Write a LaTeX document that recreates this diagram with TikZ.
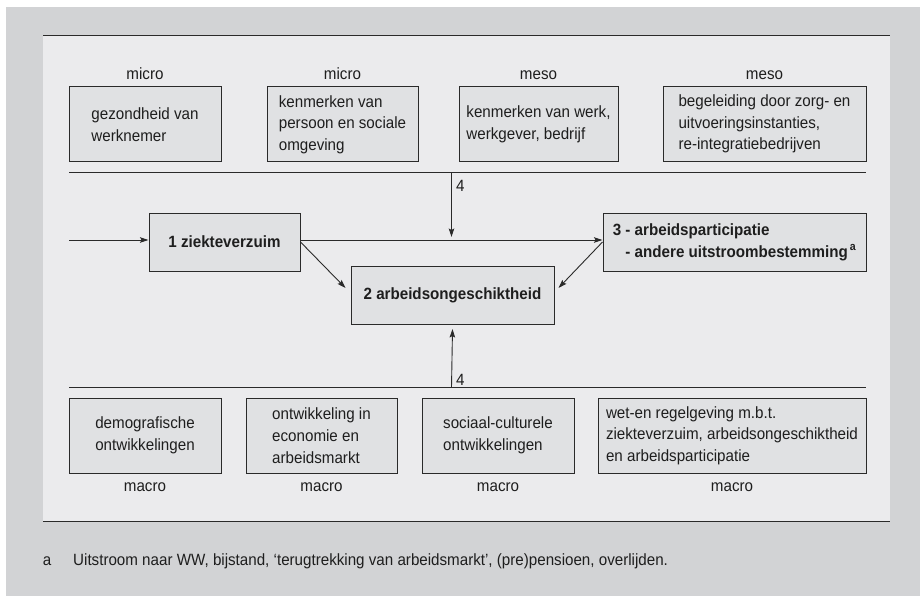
\documentclass[tikz,border=0pt]{standalone}
\usepackage{fontspec}
\setmainfont{Liberation Sans}[FakeStretch=0.93]
\usetikzlibrary{arrows.meta}
\definecolor{outergray}{HTML}{D2D3D5}
\definecolor{panel}{HTML}{EBEBED}
\definecolor{boxfill}{HTML}{E0E1E3}
\definecolor{linec}{HTML}{2A2A2A}
\definecolor{textc}{HTML}{1E1E1E}
\begin{document}
\begin{tikzpicture}[x=1pt,y=-1pt,
  txt/.style={font=\fontsize{16.3}{21.7}\selectfont, text=textc, inner sep=0pt},
  box/.style={txt, draw=linec, fill=boxfill, line width=1pt, align=left, minimum height=75pt},
  mbox/.style={box, font=\fontsize{16.3}{21.7}\selectfont\bfseries, minimum height=58pt},
  lvl/.style={txt, anchor=base},
  rule/.style={draw=linec, line width=1pt},
  arr/.style={draw=linec, line width=0.9pt, -{Stealth[length=8.5pt,width=5.5pt,inset=1.5pt]}}
]
\useasboundingbox (0,0) rectangle (920,596);
\fill[white] (0,0) rectangle (920,596);
\fill[outergray] (6,7) rectangle (920,596);
\fill[panel] (43,36) rectangle (890,521);
\draw[rule] (43,36) -- (890,36);
\draw[rule] (43,521) -- (890,521);

% top boxes
\node[box, minimum width=152pt] (t1) at (145,124.5) {gezondheid van\\werknemer};
\node[box, minimum width=151pt] (t2) at (342.5,124.5) {kenmerken van\\persoon en sociale\\omgeving};
\node[box, minimum width=159pt] (t3) at (538.5,124.5) {kenmerken van werk,\\werkgever, bedrijf};
\node[box, minimum width=203pt] (t4) at (764.5,124) {begeleiding door zorg- en\\uitvoeringsinstanties,\\re-integratiebedrijven};
\node[lvl] (l1) at (145,80) {micro};
\node[lvl] (l2) at (342.5,80) {micro};
\node[lvl] (l3) at (538.5,80) {meso};
\node[lvl] (l4) at (764.5,80) {meso};

% rules
\coordinate (tl) at (69,173);
\coordinate (tr) at (866,173);
\coordinate (bl) at (69,387);
\coordinate (br) at (866,387);
\draw[rule] (tl) -- (tr);
\draw[rule] (bl) -- (br);

% middle boxes
\node[mbox, minimum width=151pt] (z1) at (224.5,242) {1 ziekteverzuim};
\node[mbox, minimum width=203pt] (z2) at (452.5,295.5) {2 arbeidsongeschiktheid};
\node[mbox, minimum width=263pt] (z3) at (734.5,242) {\begin{tabular}{@{}l@{\ }l@{}}3&- arbeidsparticipatie\\&- andere uitstroombestemming\textsuperscript{\,a}\end{tabular}};

\coordinate (in) at (69,240);
\draw[arr] (in) -- ([yshift=2pt]z1.west);
\draw[arr] ([yshift=2pt]z1.east) -- ([yshift=2pt]z3.west);
\draw[arr] ([yshift=0pt]z1.east) -- ([xshift=-5pt,yshift=7.5pt]z2.west);
\draw[arr] ([yshift=0pt]z3.west) -- ([xshift=4pt,yshift=7.5pt]z2.east);

\coordinate (ta) at (451.5,173);
\coordinate (tb) at (451.5,237);
\draw[arr] (ta) -- (tb);
\node[lvl, anchor=base west] (n1) at (456,192) {4};
\coordinate (ba) at (451.5,387);
\draw[arr] (ba) -- ([yshift=-4pt]z2.south);
\node[lvl, anchor=base west] (n2) at (456,385) {4};

% bottom boxes
\node[box, minimum width=152pt] (b1) at (145,435.5) {demografische\\ontwikkelingen};
\node[box, minimum width=151pt] (b2) at (321.5,435.5) {ontwikkeling in\\economie en\\arbeidsmarkt};
\node[box, minimum width=152pt] (b3) at (498,435.5) {sociaal-culturele\\ontwikkelingen};
\node[box, minimum width=268pt] (b4) at (732,435.5) {wet-en regelgeving m.b.t.\\ziekteverzuim, arbeidsongeschiktheid\\en arbeidsparticipatie};
\node[lvl] (m1) at (145,491) {macro};
\node[lvl] (m2) at (321.5,491) {macro};
\node[lvl] (m3) at (498,491) {macro};
\node[lvl] (m4) at (732,491) {macro};

% footnote
\node[lvl] (fa) at (47,565) {a};
\node[lvl, anchor=base west] (ft) at (73,565) {Uitstroom naar WW, bijstand, ‘terugtrekking van arbeidsmarkt’, (pre)pensioen, overlijden.};
\end{tikzpicture}
\end{document}
